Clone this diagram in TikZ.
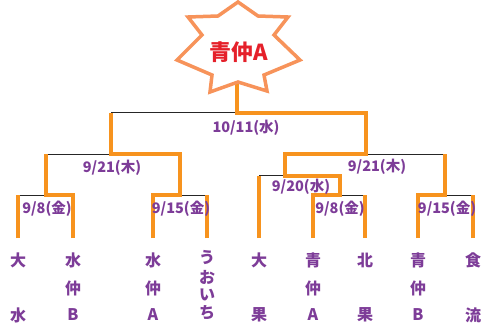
\documentclass[tikz,border=0pt]{standalone}
\usepackage{fontspec}
\newfontfamily\jp{Noto Sans CJK JP}
\definecolor{org}{HTML}{F7931E}
\definecolor{starc}{HTML}{F7935A}
\definecolor{pur}{HTML}{7D3C98}
\definecolor{redt}{HTML}{E5202A}
\begin{document}
\begin{tikzpicture}[x=1pt,y=-1pt,
  win/.style={draw=org,line width=4pt,line join=miter},
  brk/.style={draw=black!85,line width=1pt},
  datelbl/.style={font=\jp\bfseries\fontsize{14.5}{14.5}\selectfont, text=pur, inner sep=0pt},
  teamch/.style={font=\jp\bfseries\fontsize{16}{16}\selectfont, text=pur, inner sep=0pt}]
\useasboundingbox (0,0) rectangle (484,327);
\fill[white] (0,0) rectangle (484,327);
% leaf tops
\coordinate (t1) at (18,238);
\coordinate (t2) at (73,238);
\coordinate (t3) at (153,238);
\coordinate (t4) at (207,238);
\coordinate (t5) at (259,238);
\coordinate (t6) at (313,238);
\coordinate (t7) at (365,238);
\coordinate (t8) at (418,238);
\coordinate (t9) at (473,238);
% match junctions
\coordinate (m1) at (46,195);
\coordinate (m2) at (180,195);
\coordinate (m3) at (111,154);
\coordinate (m4) at (340,195);
\coordinate (m5) at (285,175.5);
\coordinate (m6) at (445,195);
\coordinate (m7) at (366,154);
\coordinate (m8) at (237,112.5);
\coordinate (starbot) at (237,82);
% black brackets
\draw[brk] (t1|-m1) -- (t2|-m1);
\draw[brk] (t3|-m2) -- (t4|-m2);
\draw[brk] (m1|-m3) -- (m2|-m3);
\draw[brk] (t5|-m5) -- (m4|-m5);
\draw[brk] (t6|-m4) -- (t7|-m4);
\draw[brk] (t8|-m6) -- (t9|-m6);
\draw[brk] (m5|-m7) -- (m6|-m7);
\draw[brk] (m3|-m8) -- (m7|-m8);
% orange paths
\draw[win] (t1) -- (t1|-m1);
\draw[win] (t2) -- (t2|-m1) -- (m1) -- (m1|-m3);
\draw[win] (t3) -- (t3|-m2) -- (m2) -- (m2|-m3) -- (m3) -- (m3|-m8);
\draw[win] (t4) -- (t4|-m2);
\draw[win] (t5) -- (t5|-m5);
\draw[win] (t6) -- (t6|-m4) -- (m4) -- (m4|-m5) -- (m5) -- (m5|-m7) -- (m7) -- (m7|-m8) -- (m8) -- (starbot);
\draw[win] (t7) -- (t7|-m4);
\draw[win] (t8) -- (t8|-m6) -- (m6) -- (m6|-m7);
\draw[win] (t9) -- (t9|-m6);
% star
\draw[starc, line width=3.5pt, fill=white, line join=miter]
  (238,2) -- (258,16) -- (288,17) -- (274,35) -- (300,60) -- (264,75) -- (267,91)
  -- (238,82) -- (210,92) -- (212,75) -- (177,60) -- (202,35) -- (188,17) -- (218,16) -- cycle;
\node[font=\jp\bfseries\fontsize{22}{22}\selectfont, text=redt, inner sep=0pt] (champ) at (239,52) {青仲A};
% dates
\node[datelbl] (d1) at (246,128) {10/11(水)};
\node[datelbl] (d2) at (112,168) {9/21(木)};
\node[datelbl] (d3) at (47,209) {9/8(金)};
\node[datelbl] (d4) at (181,209) {9/15(金)};
\node[datelbl] (d5) at (377,167) {9/21(木)};
\node[datelbl] (d6) at (301,187) {9/20(水)};
\node[datelbl] (d7) at (340,209) {9/8(金)};
\node[datelbl] (d8) at (447,209) {9/15(金)};
% teams
\node[teamch] (n1a) at (18,260) {大};
\node[teamch] (n1b) at (18,315) {水};
\node[teamch] (n2a) at (73,260) {水};
\node[teamch] (n2b) at (73,288) {仲};
\node[teamch] (n2c) at (73,315) {B};
\node[teamch] (n3a) at (153,260) {水};
\node[teamch] (n3b) at (153,288) {仲};
\node[teamch] (n3c) at (153,315) {A};
\node[teamch] (n4a) at (207,258) {う};
\node[teamch] (n4b) at (207,277) {お};
\node[teamch] (n4c) at (207,295) {い};
\node[teamch] (n4d) at (207,313) {ち};
\node[teamch] (n5a) at (259,260) {大};
\node[teamch] (n5b) at (259,315) {果};
\node[teamch] (n6a) at (313,260) {青};
\node[teamch] (n6b) at (313,288) {仲};
\node[teamch] (n6c) at (313,315) {A};
\node[teamch] (n7a) at (365,260) {北};
\node[teamch] (n7b) at (365,315) {果};
\node[teamch] (n8a) at (418,260) {青};
\node[teamch] (n8b) at (418,288) {仲};
\node[teamch] (n8c) at (418,315) {B};
\node[teamch] (n9a) at (473,260) {食};
\node[teamch] (n9b) at (473,315) {流};
\end{tikzpicture}
\end{document}
